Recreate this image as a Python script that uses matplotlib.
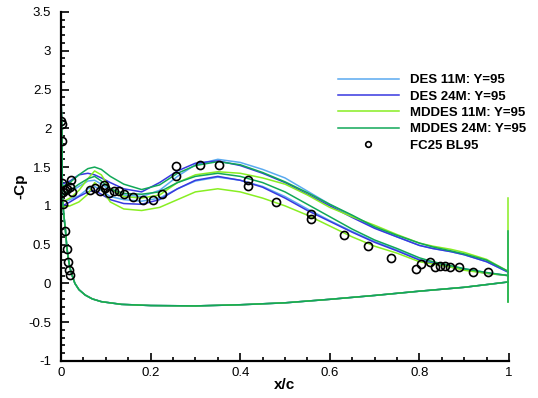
"""
Pressure distribution -Cp vs x/c at station Y=95: DES / MDDES runs against FC25 test data.
"""

import matplotlib.pyplot as plt
from matplotlib.ticker import MultipleLocator, FormatStrFormatter

plt.rcParams["font.family"] = ["Liberation Sans", "DejaVu Sans"]

# Upper surface stations (shared by all computed curves)
X_UP = [0.0, 0.003, 0.02, 0.04, 0.06, 0.075, 0.09, 0.11, 0.14, 0.18, 0.22, 0.26,
        0.30, 0.35, 0.40, 0.45, 0.50, 0.55, 0.60, 0.65, 0.70, 0.75, 0.80, 0.83,
        0.87, 0.90, 0.95, 1.0]

# Each run shows two upper-surface traces (high / low)
DES11_HI = [2.42, 1.15, 1.18, 1.25, 1.32, 1.33, 1.28, 1.20, 1.14, 1.12, 1.20, 1.38,
            1.53, 1.60, 1.56, 1.47, 1.36, 1.19, 1.02, 0.87, 0.72, 0.60, 0.49, 0.45,
            0.41, 0.37, 0.28, 0.14]
DES11_LO = [2.42, 1.05, 1.08, 1.13, 1.22, 1.25, 1.20, 1.12, 1.08, 1.06, 1.10, 1.22,
            1.32, 1.37, 1.33, 1.25, 1.12, 0.96, 0.81, 0.67, 0.54, 0.43, 0.31, 0.27,
            0.22, 0.19, 0.14, 0.10]
DES24_HI = [2.5, 1.28, 1.32, 1.40, 1.42, 1.40, 1.36, 1.30, 1.22, 1.18, 1.30, 1.45,
            1.55, 1.58, 1.52, 1.42, 1.30, 1.15, 1.00, 0.85, 0.71, 0.60, 0.49, 0.45,
            0.41, 0.37, 0.28, 0.14]
DES24_LO = [2.5, 1.00, 1.05, 1.12, 1.18, 1.20, 1.15, 1.08, 1.03, 1.02, 1.08, 1.22,
            1.33, 1.38, 1.33, 1.24, 1.10, 0.94, 0.80, 0.66, 0.53, 0.42, 0.30, 0.26,
            0.21, 0.18, 0.13, 0.10]
MDD11_HI = [2.5, 1.05, 1.10, 1.20, 1.35, 1.45, 1.40, 1.22, 1.12, 1.10, 1.14, 1.30,
            1.40, 1.44, 1.42, 1.36, 1.28, 1.14, 0.98, 0.86, 0.75, 0.63, 0.52, 0.48,
            0.44, 0.40, 0.31, 0.15]
MDD11_LO = [2.5, 0.98, 1.00, 1.05, 1.15, 1.30, 1.22, 1.05, 0.96, 0.94, 0.98, 1.08,
            1.18, 1.22, 1.18, 1.10, 1.00, 0.88, 0.74, 0.60, 0.48, 0.39, 0.28, 0.25,
            0.21, 0.17, 0.13, 0.10]
MDD24_HI = [2.56, 1.25, 1.30, 1.40, 1.48, 1.50, 1.47, 1.38, 1.28, 1.21, 1.27, 1.42,
            1.52, 1.57, 1.53, 1.43, 1.31, 1.17, 1.02, 0.88, 0.73, 0.62, 0.52, 0.47,
            0.42, 0.38, 0.30, 0.15]
MDD24_LO = [2.56, 1.15, 1.20, 1.28, 1.35, 1.38, 1.32, 1.22, 1.16, 1.15, 1.18, 1.30,
            1.38, 1.42, 1.38, 1.30, 1.18, 1.02, 0.86, 0.70, 0.56, 0.45, 0.33, 0.28,
            0.23, 0.19, 0.14, 0.10]

# Lower surface (all runs coincide)
X_LOW = [0.0, 0.003, 0.006, 0.01, 0.013, 0.016, 0.02, 0.025, 0.031, 0.04, 0.054,
         0.07, 0.09, 0.135, 0.2, 0.3, 0.4, 0.5, 0.6, 0.7, 0.8, 0.9, 1.0]
CP_LOW = [2.5, 1.1, 0.9, 0.68, 0.47, 0.33, 0.2, 0.1, 0.0, -0.08, -0.15, -0.2,
          -0.235, -0.27, -0.285, -0.29, -0.275, -0.25, -0.205, -0.155, -0.10,
          -0.05, 0.02]

# Trailing edge base segments (cp bottom, cp top)
TE_X = 0.997
TE_MDD11 = [-0.24, 1.1]
TE_MDD24 = [-0.24, 0.68]

# Experiment FC25 BL95
EXP_X = [0.0, 0.0015, 0.003, 0.003, 0.0216, 0.0, 0.005, 0.0127, 0.02, 0.024,
         0.009, 0.005, 0.010, 0.0127, 0.016, 0.018, 0.020,
         0.065, 0.076, 0.087, 0.097, 0.098, 0.108, 0.118, 0.129, 0.140, 0.161,
         0.182, 0.205, 0.226, 0.257, 0.257, 0.310, 0.353, 0.418, 0.418, 0.481,
         0.557, 0.557, 0.632, 0.686, 0.737, 0.792, 0.803, 0.824, 0.835, 0.846,
         0.857, 0.868, 0.888, 0.920, 0.953]
EXP_CP = [2.10, 2.05, 1.84, 1.29, 1.33, 1.16, 1.18, 1.22, 1.24, 1.18,
          1.20, 1.03, 0.67, 0.44, 0.28, 0.17, 0.11,
          1.21, 1.23, 1.19, 1.27, 1.23, 1.17, 1.19, 1.19, 1.15, 1.11,
          1.08, 1.07, 1.15, 1.52, 1.38, 1.53, 1.53, 1.33, 1.26, 1.05,
          0.90, 0.83, 0.62, 0.48, 0.33, 0.19, 0.25, 0.27, 0.21, 0.23,
          0.23, 0.21, 0.21, 0.15, 0.15]

C_DES11 = "#5aaaf0"
C_DES24 = "#3838e0"
C_MDD11 = "#88ee22"
C_MDD24 = "#11a858"


def main():
    fig = plt.figure(figsize=(5.38, 3.98), dpi=100)
    ax = fig.add_axes([0.1134, 0.093, 0.8327, 0.877])

    runs = [
        ("DES 11M: Y=95", C_DES11, DES11_HI, DES11_LO),
        ("DES 24M: Y=95", C_DES24, DES24_HI, DES24_LO),
        ("MDDES 11M: Y=95", C_MDD11, MDD11_HI, MDD11_LO),
        ("MDDES 24M: Y=95", C_MDD24, MDD24_HI, MDD24_LO),
    ]
    lw = 1.1
    for label, color, hi, lo in runs:
        ax.plot(X_UP, hi, color=color, lw=lw, label=label)
        ax.plot(X_UP, lo, color=color, lw=lw)
        ax.plot(X_LOW, CP_LOW, color=color, lw=lw)

    ax.plot([TE_X, TE_X], TE_MDD11, color=C_MDD11, lw=lw)
    ax.plot([TE_X, TE_X], TE_MDD24, color=C_MDD24, lw=lw)

    ax.plot(EXP_X, EXP_CP, "o", ms=5.8, mfc="none", mec="black", mew=1.2,
            label="FC25 BL95")

    ax.set_xlim(0, 1)
    ax.set_ylim(-1, 3.5)
    ax.spines["top"].set_visible(False)
    ax.spines["right"].set_visible(False)
    for s in ("left", "bottom"):
        ax.spines[s].set_linewidth(1.6)

    ax.xaxis.set_major_locator(MultipleLocator(0.2))
    ax.xaxis.set_minor_locator(MultipleLocator(0.05))
    ax.yaxis.set_major_locator(MultipleLocator(0.5))
    ax.yaxis.set_minor_locator(MultipleLocator(0.1))
    ax.xaxis.set_major_formatter(FormatStrFormatter("%g"))
    ax.yaxis.set_major_formatter(FormatStrFormatter("%g"))
    ax.tick_params(which="both", direction="in", labelsize=9.5, width=1.2)
    ax.tick_params(which="major", length=6)
    ax.tick_params(axis="x", which="major", pad=4)
    ax.tick_params(axis="y", which="major", pad=7)
    ax.tick_params(which="minor", length=3)

    ax.set_xlabel("x/c", fontsize=11, fontweight="bold")
    ax.set_ylabel("-Cp", fontsize=11, fontweight="bold")
    ax.xaxis.set_label_coords(0.5, -0.048)
    ax.yaxis.set_label_coords(-0.076, 0.5)

    ax.legend(loc="upper left", bbox_to_anchor=(0.618, 0.822), frameon=False,
              prop={"size": 9.5, "weight": "bold"}, handlelength=4.6,
              handletextpad=0.9, labelspacing=0.31, borderpad=0,
              borderaxespad=0, markerscale=0.7)
    plt.savefig("out.png", dpi=100)
    plt.close()


if __name__ == "__main__":
    main()
